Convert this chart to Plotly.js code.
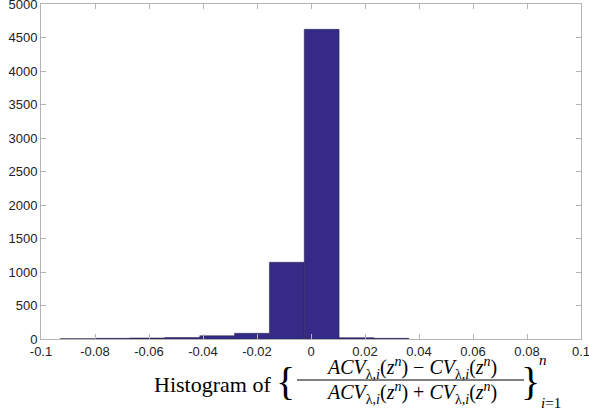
<!DOCTYPE html>
<html>
<head>
<meta charset="utf-8">
<script src="https://cdn.plot.ly/plotly-3.0.1.min.js"></script>
<style>html,body{margin:0;padding:0;background:#fff;}#chart{width:589px;height:411px;}</style>
</head>
<body>
<div id="chart"></div>
<script>
// Histogram bin edges (10 bins) and counts
const binEdges = [-0.0928, -0.0799, -0.0670, -0.0541, -0.0412, -0.0283, -0.0154, -0.0025, 0.0104, 0.0233, 0.0362];
const counts = [5, 10, 15, 22, 48, 85, 1145, 4622, 20, 10];

const xTickVals = [-0.1, -0.08, -0.06, -0.04, -0.02, 0, 0.02, 0.04, 0.06, 0.08, 0.1];
const xTickLabels = ['-0.1', '-0.08', '-0.06', '-0.04', '-0.02', '0', '0.02', '0.04', '0.06', '0.08', '0.1'];
const yTickVals = [0, 500, 1000, 1500, 2000, 2500, 3000, 3500, 4000, 4500, 5000];
const yTickLabels = ['0', '500', '1000', '1500', '2000', '2500', '3000', '3500', '4000', '4500', '5000'];

const centers = counts.map((_, i) => (binEdges[i] + binEdges[i + 1]) / 2);
const widths = counts.map((_, i) => binEdges[i + 1] - binEdges[i]);

const W = 589, H = 411, L = 41, R = 8, T = 4, B = 72;
const pw = W - L - R, ph = H - T - B;
const px = x => (x - L) / pw;
const py = y => (H - B - y) / ph;

const serif = 'Liberation Serif, Times New Roman, serif';
const num = '<i>ACV</i><sub>λ,<i>i</i></sub>(<i>z</i><sup><i>n</i></sup>) − <i>CV</i><sub>λ,<i>i</i></sub>(<i>z</i><sup><i>n</i></sup>)';
const den = '<i>ACV</i><sub>λ,<i>i</i></sub>(<i>z</i><sup><i>n</i></sup>) + <i>CV</i><sub>λ,<i>i</i></sub>(<i>z</i><sup><i>n</i></sup>)';

const axisCommon = {
  showline: true, mirror: 'ticks', linecolor: '#b4b4b4', linewidth: 1,
  ticks: 'inside', ticklen: 5, tickcolor: '#b4b4b4', tickwidth: 1,
  showgrid: false, zeroline: false, ticklabeloverflow: 'allow',
  tickfont: {family: 'Liberation Sans, Arial, sans-serif', size: 13, color: '#222'}
};

const trace = {
  type: 'bar', x: centers, y: counts, width: widths,
  marker: {color: '#352a87', line: {color: 'rgba(40,40,70,0.9)', width: 0.6}},
  hoverinfo: 'skip', cliponaxis: false
};

const ann = (text, x, y, size, xanchor, extra) => Object.assign({
  text: text, xref: 'paper', yref: 'paper', x: px(x), y: py(y),
  xanchor: xanchor || 'center', yanchor: 'middle', showarrow: false,
  font: {family: serif, size: size, color: '#000'}
}, extra || {});

const layout = {
  width: W, height: H,
  margin: {l: L, r: R, t: T, b: B, pad: 0},
  paper_bgcolor: '#fff', plot_bgcolor: '#fff',
  showlegend: false, bargap: 0,
  xaxis: Object.assign({}, axisCommon, {range: [-0.1, 0.1], tickvals: xTickVals, ticktext: xTickLabels}),
  yaxis: Object.assign({}, axisCommon, {range: [0, 5000], tickvals: yTickVals, ticktext: yTickLabels}),
  annotations: [
    ann('Histogram of', 273, 384, 22, 'right'),
    ann('{', 285, 382, 40),
    ann(num, 411, 368, 20),
    ann(den, 411, 393, 20),
    ann('}', 530, 382, 40),
    ann('<i>n</i>', 543, 360, 15),
    ann('<i>i</i>=1', 539, 403, 15, 'left')
  ],
  shapes: [{type: 'line', xref: 'paper', yref: 'paper', x0: px(297), x1: px(524), y0: py(380), y1: py(380), line: {color: '#000', width: 1}}]
};

Plotly.newPlot('chart', [trace], layout, {displayModeBar: false, staticPlot: true});
</script>
</body>
</html>
